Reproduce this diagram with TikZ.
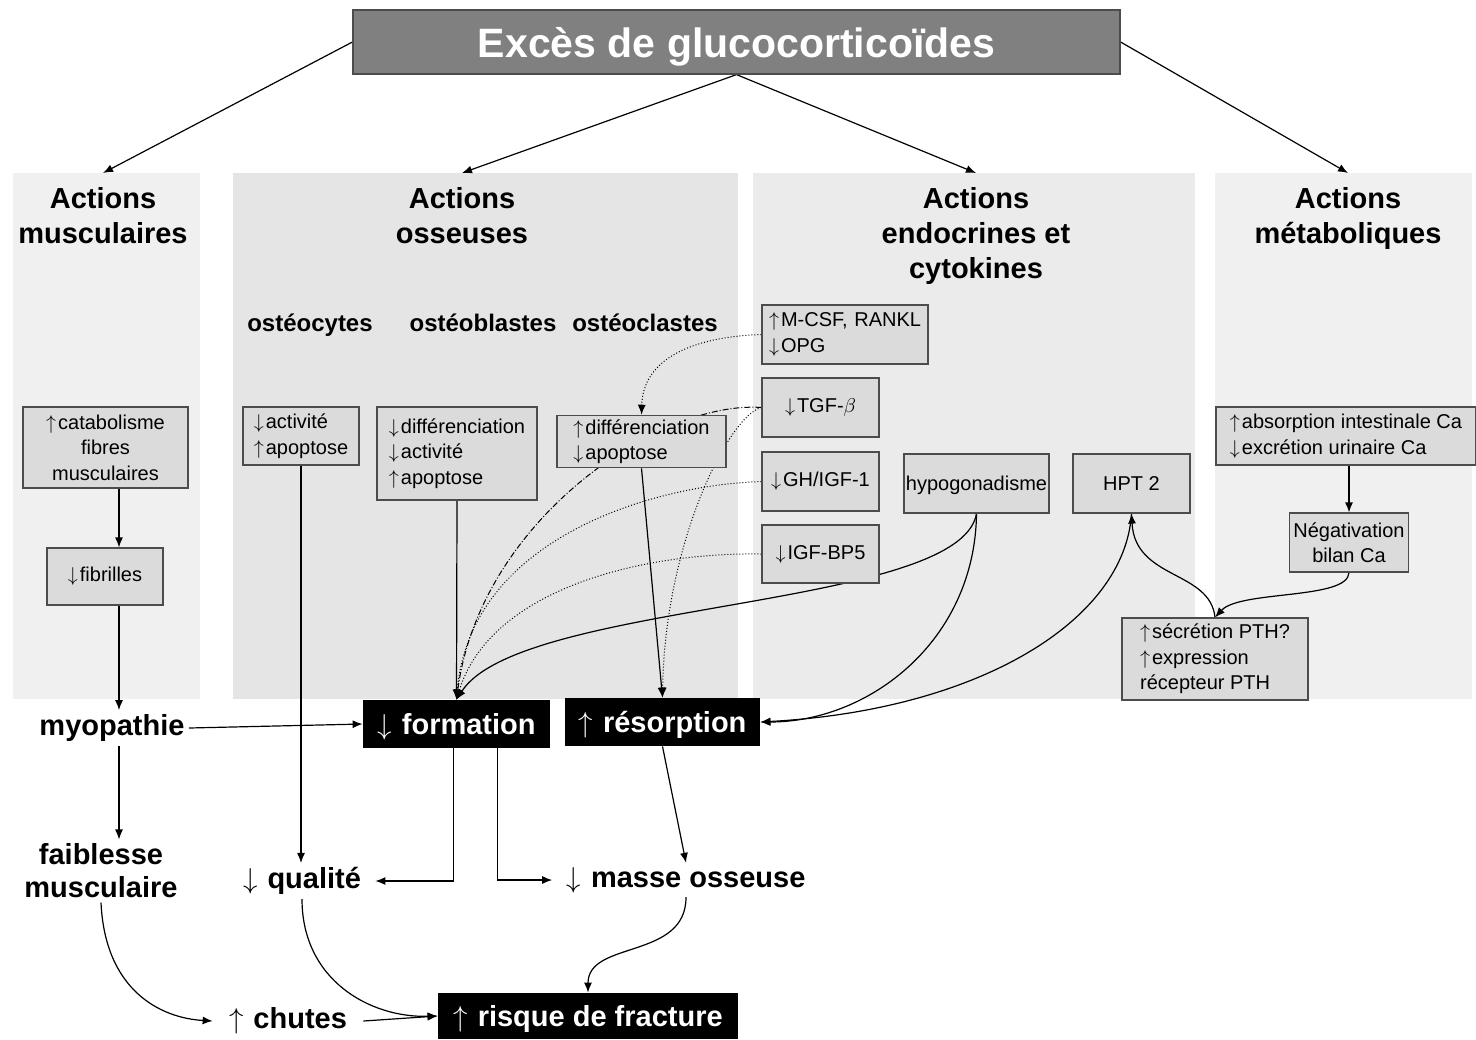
\documentclass[tikz,border=0pt]{standalone}
\usepackage{fontspec}
\setmainfont{Liberation Sans}
\usetikzlibrary{arrows.meta,calc}

\definecolor{titlegray}{gray}{0.5}
\definecolor{boxgray}{gray}{0.86}
\definecolor{edgegray}{gray}{0.3}
\definecolor{panelA}{gray}{0.94}
\definecolor{panelB}{gray}{0.90}
\definecolor{panelC}{gray}{0.92}
\definecolor{panelD}{gray}{0.94}

\newcommand{\arrup}{$\uparrow$\kern1pt}
\newcommand{\arrdown}{$\downarrow$\kern1pt}

\pgfdeclarelayer{panels}
\pgfdeclarelayer{links}
\pgfsetlayers{panels,links,main}

\begin{document}
\begin{tikzpicture}[x=0.5pt,y=-0.5pt,>={Latex[length=5pt,width=4pt]},
  every node/.style={inner sep=2pt},
  panel/.style={fill=#1,anchor=north west,inner sep=0pt},
  headbox/.style={draw=edgegray,fill=titlegray,text=white,line width=0.6pt,text depth=0pt,
    font=\bfseries\fontsize{20.5}{24}\selectfont,minimum width=383.5pt,minimum height=32pt},
  paneltitle/.style={font=\bfseries\fontsize{14.5}{17.5}\selectfont,align=center},
  celltitle/.style={font=\bfseries\fontsize{12}{14}\selectfont},
  smallbox/.style={draw=edgegray,fill=boxgray,line width=0.6pt,
    font=\fontsize{10}{12.75}\selectfont},
  blackbox/.style={fill=black,text=white,font=\bfseries\fontsize{14.5}{17}\selectfont,
    text depth=0pt,minimum height=24pt},
  plaintext/.style={font=\bfseries\fontsize{14.5}{16.5}\selectfont,align=center},
  solidlink/.style={->,line width=0.6pt},
  hormlink/.style={->,line width=0.5pt,densely dotted},
]
\useasboundingbox (0,0) rectangle (1476,1039);

% background panels
\begin{pgfonlayer}{panels}
\fill[white] (0,0) rectangle (1476,1039);
\node[panel=panelA,minimum width=93.5pt,minimum height=263pt] (pmusc) at (13,173) {};
\node[panel=panelB,minimum width=252.5pt,minimum height=263pt] (poss) at (233,173) {};
\node[panel=panelC,minimum width=221pt,minimum height=263pt] (pendo) at (753,173) {};
\node[panel=panelD,minimum width=128.5pt,minimum height=263pt] (pmeta) at (1215,173) {};
\end{pgfonlayer}

\node[headbox] (head) at (736.5,42) {Excès de glucocorticoïdes};

\node[paneltitle] (tmusc) at (103,215.5) {Actions\\musculaires};
\node[paneltitle] (toss) at (462,215.5) {Actions\\osseuses};
\node[paneltitle] (tendo) at (976,236) {Actions\\endocrines et\\cytokines};
\node[paneltitle] (tmeta) at (1348,218.5) {Actions\\métaboliques};

\node[celltitle] (hcyte) at (310,325) {ostéocytes};
\node[celltitle] (hblast) at (483,323) {ostéoblastes};
\node[celltitle] (hclast) at (645,323) {ostéoclastes};

% muscle
\node[smallbox,align=center,minimum width=82.5pt,minimum height=40.5pt] (catab) at (105.5,447.5) {\arrup catabolisme\\fibres\\musculaires};
\node[smallbox,minimum width=58pt,minimum height=28.5pt] (fibr) at (105,576.5) {\arrdown fibrilles};
\coordinate (musline) at (119,0);

% bone
\node[smallbox,align=left,minimum width=58pt,minimum height=29pt] (ostcy) at (301,436) {\arrdown activité\\\arrup apoptose};
\node[smallbox,align=left,minimum width=80pt,minimum height=46.5pt] (ostbl) at (457,453.5) {\arrdown différenciation\\\arrdown activité\\\arrup apoptose};
\node[smallbox,align=left,minimum width=84.5pt,minimum height=23.5pt] (ostcl) at (641.5,441.5) {\arrup différenciation\\\arrdown apoptose};

% endocrine and cytokines
\node[smallbox,align=left,text width=76pt,inner xsep=3.5pt,minimum height=29.5pt] (mcsf) at (845,334.5) {\mbox{\arrup M-CSF, RANKL}\\\arrdown OPG};
\node[smallbox,minimum width=58.5pt,minimum height=29.5pt] (tgf) at (820.5,407.5) {\arrdown TGF-$\beta$};
\node[smallbox,minimum width=58.5pt,minimum height=29.5pt] (gh) at (820.5,481.5) {\arrdown GH/IGF-1};
\node[smallbox,minimum width=58.5pt,minimum height=29pt] (igf) at (820.5,554) {\arrdown IGF-BP5};
\node[smallbox,inner xsep=0.5pt,text depth=0pt,minimum width=72.5pt,minimum height=29.5pt] (hypo) at (976.5,483.5) {hypogonadisme};
\node[smallbox,minimum width=58.5pt,minimum height=29.5pt] (hpt) at (1131.5,483.5) {HPT 2};

% metabolic
\node[smallbox,align=left,minimum width=130pt,minimum height=29pt] (absorp) at (1346,436) {\arrup absorption intestinale Ca\\\arrdown excrétion urinaire Ca};
\node[smallbox,align=center,minimum width=59pt,minimum height=29.5pt] (negat) at (1349,542.5) {Négativation\\bilan Ca};
\node[smallbox,align=left,minimum width=93pt,minimum height=41pt] (pth) at (1215,659) {\arrup sécrétion PTH?\\\arrup expression\\récepteur PTH};

% consequences
\node[blackbox,minimum width=93.5pt] (formation) at (456.5,724) {\arrdown~formation};
\node[blackbox,minimum width=97.5pt] (resorp) at (662.5,722) {\arrup~résorption};
\node[blackbox,minimum width=150pt,minimum height=23pt] (risque) at (588,1016) {\arrup~risque de fracture};

\node[plaintext] (myo) at (112,728) {myopathie};
\node[plaintext] (faib) at (101,871) {faiblesse\\musculaire};
\node[plaintext,inner xsep=7pt] (qual) at (302,881) {\arrdown~qualité};
\node[plaintext,inner xsep=7pt] (masse) at (686,880) {\arrdown~masse osseuse};
\node[plaintext,inner xsep=8pt] (chutes) at (288,1021) {\arrup~chutes};

\begin{pgfonlayer}{links}
% from the head box
\draw[solidlink] (head.west) -- (tmusc.north |- pmusc.north);
\draw[solidlink] (head.south) -- (toss.north |- poss.north);
\draw[solidlink] (head.south) -- (tendo.north |- pendo.north);
\draw[solidlink] (head.east) -- (tmeta.north |- pmeta.north);
% muscle
\draw[solidlink] (catab.south -| musline) -- (fibr.north -| musline);
\draw[solidlink] (fibr.south -| musline) -- (myo.north -| musline);
\draw[solidlink] (myo.east) -- (formation.west);
\draw[solidlink] (myo.south -| musline) -- (faib.north -| musline);
\draw[solidlink] (faib.south) .. controls (105,990) and (160,1018) .. (chutes.west);
% bone
\draw[solidlink] (ostcy.south) -- (ostcy.south |- qual.north);
\draw[solidlink] (ostbl.south) -- (formation.north);
\draw[solidlink] (ostcl.south) -- (resorp.north);
\draw[solidlink] ($(formation.south)+(-3,0)$) |- (qual.east);
\draw[solidlink] ($(formation.south)+(41,0)$) |- (masse.west);
\draw[solidlink] (resorp.south) -- (masse.north);
\draw[solidlink] (masse.south) .. controls (686,960) and (588,940) .. (risque.north);
\draw[solidlink] (qual.south) .. controls (302,980) and (370,1018) .. (risque.west);
\draw[solidlink] (chutes.east) -- (risque.west);
% hormones and cytokines
\draw[hormlink] (mcsf.west) .. controls (690,337) and (643,360) .. (ostcl.north);
\draw[hormlink,densely dash dot] (tgf.west) .. controls (660,400) and (480,520) .. (formation.north);
\draw[hormlink] (tgf.west) .. controls (730,415) and (665,540) .. (resorp.north);
\draw[hormlink] (gh.west) .. controls (650,485) and (470,540) .. (formation.north);
\draw[hormlink] (igf.west) .. controls (640,552) and (490,590) .. (formation.north);
\draw[solidlink] (hypo.south) .. controls (960,610) and (520,600) .. (formation.north);
\draw[solidlink] (hypo.south) .. controls (975,640) and (870,722) .. (resorp.east);
\draw[solidlink] (hpt.south) .. controls (1125,620) and (980,710) .. (resorp.east);
% metabolic
\draw[solidlink] (absorp.south -| negat.north) -- (negat.north);
\draw[solidlink] (negat.south) .. controls (1348,600) and (1240,590) .. (pth.north);
\draw[solidlink] (pth.north) .. controls (1210,570) and (1135,580) .. (hpt.south);
\end{pgfonlayer}
\end{tikzpicture}
\end{document}
